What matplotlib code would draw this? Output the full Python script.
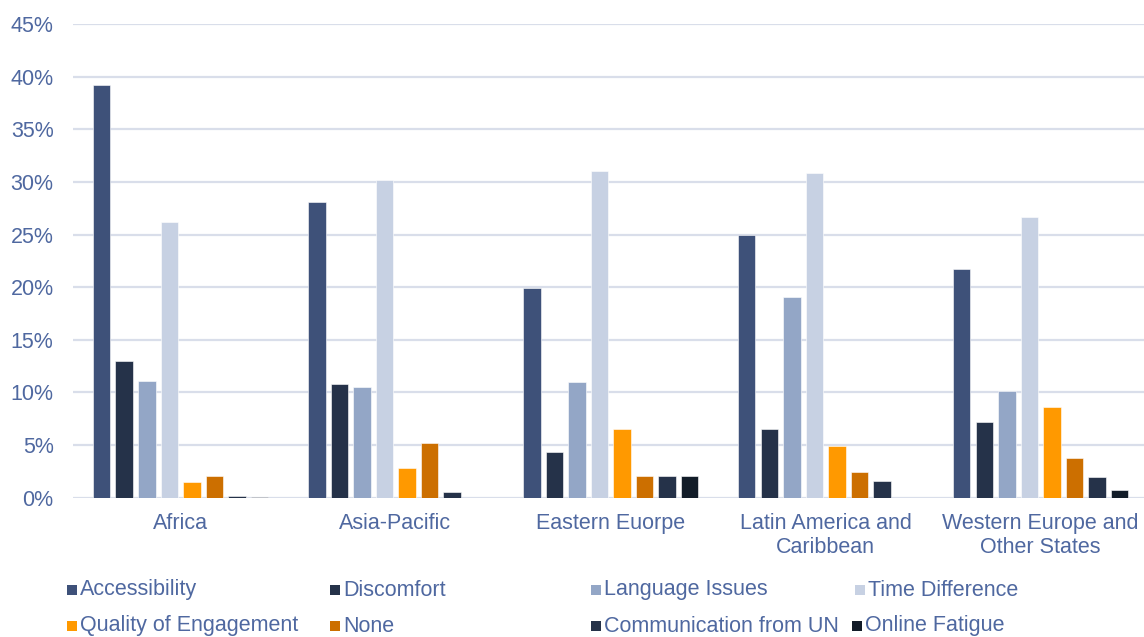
import matplotlib
matplotlib.use("Agg")
import matplotlib.pyplot as plt
import numpy as np
from matplotlib.patches import Rectangle

plt.rcParams['font.family'] = ['Liberation Sans', 'DejaVu Sans']

regions = ["Africa", "Asia-Pacific", "Eastern Euorpe", "Latin America and\nCaribbean",
           "Western Europe and\nOther States"]
series = ["Accessibility", "Discomfort", "Language Issues", "Time Difference",
          "Quality of Engagement", "None", "Communication from UN", "Online Fatigue"]
accessibility = [39.2, 28.1, 19.9, 24.95, 21.7]
discomfort = [13.0, 10.8, 4.3, 6.55, 7.2]
language_issues = [11.1, 10.5, 10.95, 19.1, 10.1]
time_difference = [26.2, 30.2, 31.0, 30.8, 26.65]
quality_of_engagement = [1.45, 2.85, 6.55, 4.9, 8.6]
none_values = [2.1, 5.2, 2.1, 2.4, 3.75]
communication_from_un = [0.2, 0.5, 2.1, 1.55, 2.0]
online_fatigue = [0.05, 0.0, 2.1, 0.0, 0.75]
y_ticks = [0, 5, 10, 15, 20, 25, 30, 35, 40, 45]
y_tick_labels = ["0%", "5%", "10%", "15%", "20%", "25%", "30%", "35%", "40%", "45%"]

values = [accessibility, discomfort, language_issues, time_difference,
          quality_of_engagement, none_values, communication_from_un, online_fatigue]
colors = ["#3E5179", "#253249", "#93A6C6", "#C7D1E3", "#FF9900", "#CC6F00", "#253249", "#121C28"]
text_color = "#4F68A0"
grid_color = "#D9DEEA"
fs = 15.5

W, H = 1144, 637
fig = plt.figure(figsize=(W / 100, H / 100), dpi=100)
ax = fig.add_axes([73 / W, (H - 497.7) / H, 1075 / W, (497.7 - 24) / H])

x = np.arange(len(regions))
step = 22.5 / 215
bw = 17.5 / 215
n = len(series)
for i, (name, vals, c) in enumerate(zip(series, values, colors)):
    ax.bar(x + (i - (n - 1) / 2) * step, vals, width=bw, color=c, label=name, zorder=3,
           edgecolor='white', linewidth=0.4)

ax.set_xlim(-0.5, len(regions) - 0.5)
ax.set_ylim(0, 45)
ax.set_yticks(y_ticks, y_tick_labels)
ax.set_xticks(x, regions)
ax.yaxis.grid(True, color=grid_color, linewidth=1.6, zorder=0)
ax.set_axisbelow(True)
for s in ax.spines.values():
    s.set_visible(False)
ax.tick_params(axis='y', length=0, pad=14, labelsize=fs, labelcolor=text_color)
ax.tick_params(axis='x', length=0, pad=11, labelsize=fs, labelcolor=text_color)
for lbl in ax.get_xticklabels():
    lbl.set_linespacing(1.2)

# legend (manual layout)
leg_pos = [(67, 590), (330, 590), (591, 590), (855, 590),
           (67, 626), (330, 626), (591, 626), (852, 626)]
sq = 10
for (px, py), name, c in zip(leg_pos, series, colors):
    fig.patches.append(Rectangle((px / W, (H - py - sq / 2) / H), sq / W, sq / H,
                                 transform=fig.transFigure, facecolor=c, edgecolor='none'))
    fig.text((px + sq + 3) / W, (H - py) / H, name, color=text_color, fontsize=fs,
             va='center', ha='left')

fig.savefig("out.png", dpi=100)
